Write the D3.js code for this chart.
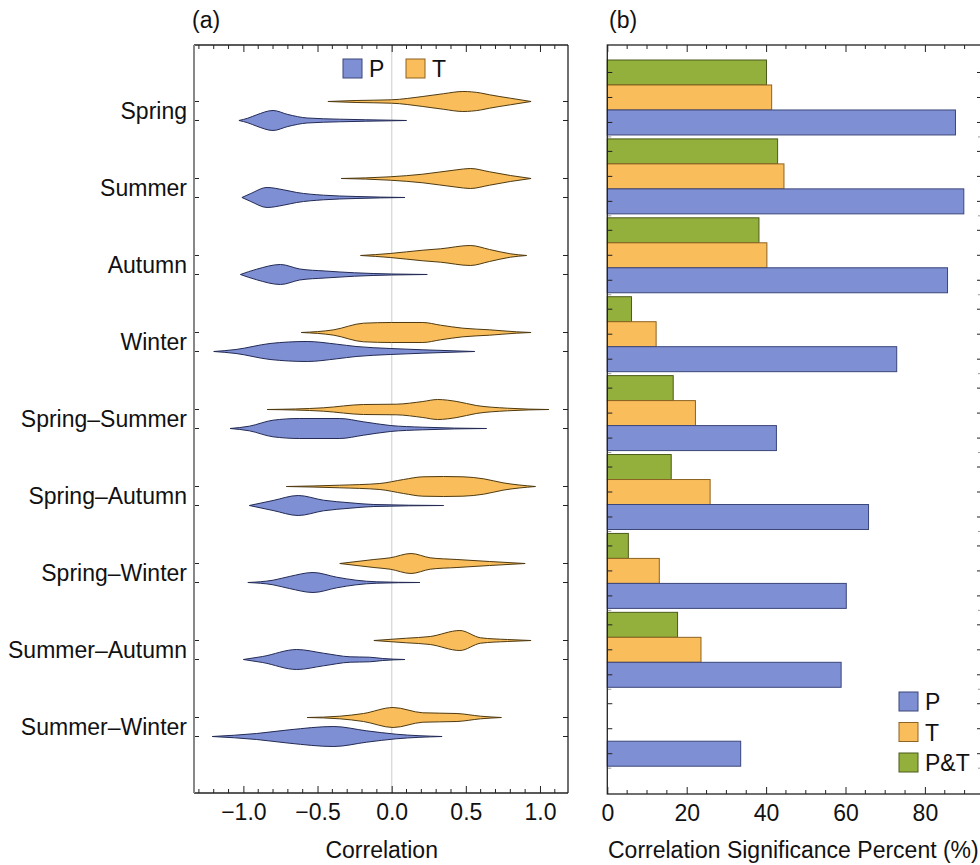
<!DOCTYPE html>
<html>
<head>
<meta charset="utf-8">
<script src="https://cdn.jsdelivr.net/npm/d3@7"></script>
<style>
  body { margin: 0; background: #fff; }
  svg text { font-family: "Liberation Sans", Arial, sans-serif; fill: #111; }
</style>
</head>
<body>
<div id="chart"></div>
<script>
var width = 980, height = 865;
var fs = 23;

var categories = ["Spring", "Summer", "Autumn", "Winter", "Spring\u2013Summer",
  "Spring\u2013Autumn", "Spring\u2013Winter", "Summer\u2013Autumn", "Summer\u2013Winter"];

// violin outlines: [correlation, relative half-width]
var violinT = [
  [[-0.43,0],[-0.24,0.1],[0.0,0.17],[0.21,0.5],[0.35,0.78],[0.48,1],[0.6,0.85],[0.66,0.67],[0.8,0.33],[0.94,0]],
  [[-0.34,0],[-0.01,0.17],[0.21,0.43],[0.44,0.87],[0.53,1],[0.66,0.67],[0.8,0.3],[0.94,0]],
  [[-0.21,0],[-0.01,0.2],[0.21,0.53],[0.33,0.67],[0.53,1],[0.66,0.6],[0.8,0.17],[0.91,0]],
  [[-0.61,0],[-0.39,0.27],[-0.19,0.93],[0.0,1],[0.21,1],[0.33,0.73],[0.48,0.43],[0.66,0.27],[0.84,0.07],[0.94,0]],
  [[-0.84,0],[-0.46,0.17],[-0.19,0.5],[0.03,0.53],[0.21,0.8],[0.31,1],[0.44,0.8],[0.57,0.4],[0.78,0.13],[1.06,0]],
  [[-0.71,0],[-0.35,0.13],[-0.08,0.3],[0.08,0.7],[0.21,0.97],[0.35,1],[0.48,0.97],[0.62,0.77],[0.75,0.37],[0.97,0]],
  [[-0.35,0],[-0.12,0.4],[-0.01,0.57],[0.13,1],[0.26,0.57],[0.44,0.4],[0.66,0.2],[0.9,0]],
  [[-0.12,0],[0.1,0.23],[0.26,0.4],[0.46,1],[0.6,0.27],[0.78,0.1],[0.94,0]],
  [[-0.57,0],[-0.35,0.13],[-0.19,0.4],[0.01,1],[0.21,0.47],[0.44,0.4],[0.6,0.13],[0.74,0]]
];
var violinP = [
  [[-1.03,0],[-0.97,0.23],[-0.91,0.57],[-0.8,1],[-0.7,0.6],[-0.57,0.25],[-0.35,0.13],[0.0,0.03],[0.1,0]],
  [[-1.01,0],[-0.95,0.4],[-0.84,1],[-0.73,0.77],[-0.64,0.5],[-0.46,0.23],[-0.24,0.1],[0.09,0]],
  [[-1.02,0],[-0.91,0.53],[-0.75,1],[-0.62,0.55],[-0.45,0.35],[-0.25,0.17],[0.0,0.05],[0.24,0]],
  [[-1.2,0],[-1.05,0.2],[-0.82,0.8],[-0.57,1],[-0.37,0.73],[-0.24,0.5],[-0.01,0.3],[0.21,0.17],[0.56,0]],
  [[-1.09,0],[-0.96,0.23],[-0.8,0.83],[-0.62,1],[-0.35,1],[-0.19,0.67],[-0.01,0.3],[0.21,0.13],[0.64,0]],
  [[-0.96,0],[-0.8,0.5],[-0.63,1],[-0.46,0.53],[-0.28,0.27],[-0.12,0.1],[0.35,0]],
  [[-0.97,0],[-0.8,0.23],[-0.69,0.6],[-0.53,1],[-0.37,0.53],[-0.24,0.23],[-0.1,0.07],[0.19,0]],
  [[-1.0,0],[-0.87,0.3],[-0.64,1],[-0.46,0.63],[-0.28,0.27],[-0.15,0.23],[-0.06,0.1],[0.09,0]],
  [[-1.21,0],[-0.91,0.3],[-0.69,0.67],[-0.39,1],[-0.17,0.57],[0.03,0.23],[0.34,0]]
];

// significance percent per category
var barP  = [87.7, 89.8, 85.7, 72.9, 42.6, 65.8, 60.2, 58.9, 33.6];
var barT  = [41.4, 44.5, 40.2, 12.3, 22.2, 25.9, 13.1, 23.6, 0];
var barPT = [40.1, 42.9, 38.2, 6.1, 16.6, 16.1, 5.3, 17.7, 0];

var series = ["P&T", "T", "P"];
var fills = { "P": "#7f8fd3", "T": "#f9bd5c", "P&T": "#93b03d" };
var edges = { "P": "#3b4679", "T": "#8d6321", "P&T": "#4b5b1b" };
var violinEdges = { "P": "#222a55", "T": "#4f3a10" };

var svg = d3.select("#chart").append("svg")
  .attr("width", width).attr("height", height);

// ---------- panel (a) ----------
var a = { left: 194, right: 568, top: 45, bottom: 793 };

var xA = d3.scaleLinear().domain([-1.333, 1.189]).range([a.left, a.right]);
var yA = d3.scalePoint().domain(categories).range([a.top, a.bottom]).padding(0.857);
var half = 9.5, vmax = 10;

var gA = svg.append("g");

gA.append("line")
  .attr("x1", xA(0)).attr("x2", xA(0))
  .attr("y1", a.top).attr("y2", a.bottom)
  .attr("stroke", "#dcdcdc").attr("stroke-width", 1.5);

function drawViolins(data, key, off) {
  data.forEach(function (pts, i) {
    var cy = yA(categories[i]) + off;
    var area = d3.area()
      .x(function (d) { return xA(d[0]); })
      .y0(function (d) { return cy - d[1] * vmax; })
      .y1(function (d) { return cy + d[1] * vmax; })
      .curve(d3.curveMonotoneX);
    gA.append("path")
      .attr("d", area(pts))
      .attr("fill", fills[key])
      .attr("stroke", violinEdges[key])
      .attr("stroke-width", 1);
  });
}
drawViolins(violinT, "T", -half);
drawViolins(violinP, "P", half);

// frame and ticks
var bottomAxisA = d3.axisBottom(xA).tickValues([-1, -0.5, 0, 0.5, 1])
  .tickFormat(function (d) { return d3.format(".1f")(d).replace("-", "\u2212"); })
  .tickSize(-7).tickPadding(11);
gA.append("g").attr("transform", "translate(0," + a.bottom + ")").call(bottomAxisA)
  .call(function (g) {
    g.select(".domain").remove();
    g.selectAll("text").attr("font-size", fs).attr("fill", "#111");
    g.selectAll("line").attr("stroke", "#222");
  });
gA.append("g").attr("transform", "translate(0," + a.top + ")")
  .call(d3.axisTop(xA).tickValues([-1, -0.5, 0, 0.5, 1]).tickSize(-7).tickFormat(""))
  .call(function (g) { g.select(".domain").remove(); g.selectAll("line").attr("stroke", "#222"); });

var minorA = d3.range(-13, 12).map(function (d) { return d / 10; })
  .filter(function (d) { return Math.abs(d * 2 - Math.round(d * 2)) > 1e-6; });
[a.bottom, a.top].forEach(function (yy) {
  var dir = yy === a.bottom ? -1 : 1;
  gA.selectAll(null).data(minorA).join("line")
    .attr("x1", function (d) { return xA(d); }).attr("x2", function (d) { return xA(d); })
    .attr("y1", yy).attr("y2", yy + dir * 4)
    .attr("stroke", "#222");
});

var violinRows = [];
categories.forEach(function (c) { violinRows.push(yA(c) - half, yA(c) + half); });
[a.left, a.right].forEach(function (xx) {
  var dir = xx === a.left ? 1 : -1;
  gA.selectAll(null).data(violinRows).join("line")
    .attr("x1", xx).attr("x2", xx + dir * 5)
    .attr("y1", function (d) { return d; }).attr("y2", function (d) { return d; })
    .attr("stroke", "#222");
});

gA.append("line").attr("x1", a.left).attr("x2", a.right).attr("y1", a.top).attr("y2", a.top).attr("stroke", "#222").attr("stroke-width", 1.3);
gA.append("line").attr("x1", a.left).attr("x2", a.right).attr("y1", a.bottom).attr("y2", a.bottom).attr("stroke", "#222").attr("stroke-width", 1.3);
gA.append("line").attr("x1", a.right).attr("x2", a.right).attr("y1", a.top).attr("y2", a.bottom).attr("stroke", "#222").attr("stroke-width", 1.3);
gA.append("line").attr("x1", a.left).attr("x2", a.left).attr("y1", a.top).attr("y2", a.bottom).attr("stroke", "#888").attr("stroke-width", 2);

gA.selectAll(".cat").data(categories).join("text")
  .attr("class", "cat")
  .attr("x", 187)
  .attr("y", function (d) { return yA(d) + 8; })
  .attr("text-anchor", "end")
  .attr("font-size", fs)
  .text(function (d) { return d; });

gA.append("text").attr("x", xA(0) - 10).attr("y", 858).attr("text-anchor", "middle")
  .attr("font-size", fs).text("Correlation");
gA.append("text").attr("x", 192).attr("y", 28).attr("font-size", fs).text("(a)");

// legend (a)
var legA = [{ k: "P", x: 343 }, { k: "T", x: 406 }];
legA.forEach(function (d) {
  gA.append("rect").attr("x", d.x).attr("y", 59).attr("width", 19).attr("height", 19)
    .attr("fill", fills[d.k]).attr("stroke", edges[d.k]).attr("stroke-width", 1);
  gA.append("text").attr("x", d.x + 26).attr("y", 77).attr("font-size", fs).text(d.k);
});

// ---------- panel (b) ----------
var b = { left: 607.3, right: 982, top: 45, bottom: 794 };
var xB = d3.scaleLinear().domain([0, (b.right - b.left) / 3.97]).range([b.left, b.right]);
var yB = d3.scaleBand().domain(categories).range([60, 766.2]).paddingInner(0.05).paddingOuter(0);
var ySub = d3.scaleBand().domain(series).range([0, yB.bandwidth()]);

var gB = svg.append("g");
var barData = [];
categories.forEach(function (c, i) {
  barData.push({ c: c, k: "P&T", v: barPT[i] });
  barData.push({ c: c, k: "T", v: barT[i] });
  barData.push({ c: c, k: "P", v: barP[i] });
});
gB.selectAll(".bar").data(barData.filter(function (d) { return d.v > 0; })).join("rect")
  .attr("class", "bar")
  .attr("x", xB(0))
  .attr("y", function (d) { return yB(d.c) + ySub(d.k); })
  .attr("width", function (d) { return xB(d.v) - xB(0); })
  .attr("height", ySub.bandwidth())
  .attr("fill", function (d) { return fills[d.k]; })
  .attr("stroke", function (d) { return edges[d.k]; })
  .attr("stroke-width", 1);

gB.append("g").attr("transform", "translate(0," + b.bottom + ")")
  .call(d3.axisBottom(xB).tickValues([0, 20, 40, 60, 80]).tickSize(-7).tickPadding(11))
  .call(function (g) {
    g.select(".domain").remove();
    g.selectAll("text").attr("font-size", fs).attr("fill", "#111");
    g.selectAll("line").attr("stroke", "#222");
  });
gB.append("g").attr("transform", "translate(0," + b.top + ")")
  .call(d3.axisTop(xB).tickValues([0, 20, 40, 60, 80]).tickSize(-7).tickFormat(""))
  .call(function (g) { g.select(".domain").remove(); g.selectAll("line").attr("stroke", "#222"); });
var minorB = d3.range(5, 95, 5).filter(function (d) { return d % 20 !== 0; });
[b.bottom, b.top].forEach(function (yy) {
  var dir = yy === b.bottom ? -1 : 1;
  gB.selectAll(null).data(minorB).join("line")
    .attr("x1", function (d) { return xB(d); }).attr("x2", function (d) { return xB(d); })
    .attr("y1", yy).attr("y2", yy + dir * 4)
    .attr("stroke", "#222");
});

var barRows = [], sepRows = [];
categories.forEach(function (c, i) {
  series.forEach(function (k) { barRows.push(yB(c) + ySub(k) + ySub.bandwidth() / 2); });
  sepRows.push(yB(c) + yB.bandwidth() + yB.step() * yB.paddingInner() / 2);
});
[b.left, b.right].forEach(function (xx) {
  var dir = xx === b.left ? 1 : -1;
  gB.selectAll(null).data(barRows).join("line")
    .attr("x1", xx).attr("x2", xx + dir * 5)
    .attr("y1", function (d) { return d; }).attr("y2", function (d) { return d; })
    .attr("stroke", "#222");
  gB.selectAll(null).data(sepRows).join("line")
    .attr("x1", xx).attr("x2", xx + dir * 4)
    .attr("y1", function (d) { return d; }).attr("y2", function (d) { return d; })
    .attr("stroke", "#999");
});

gB.append("rect").attr("x", b.left).attr("y", b.top)
  .attr("width", b.right - b.left).attr("height", b.bottom - b.top)
  .attr("fill", "none").attr("stroke", "#222").attr("stroke-width", 1.3);

gB.append("text").attr("x", 608).attr("y", 858).attr("font-size", fs)
  .text("Correlation Significance Percent (%)");
gB.append("text").attr("x", 609).attr("y", 28).attr("font-size", fs).text("(b)");

// legend (b)
["P", "T", "P&T"].forEach(function (k, i) {
  var yy = 692 + i * 30.5;
  gB.append("rect").attr("x", 899).attr("y", yy).attr("width", 19).attr("height", 19)
    .attr("fill", fills[k]).attr("stroke", edges[k]).attr("stroke-width", 1);
  gB.append("text").attr("x", 925).attr("y", yy + 18).attr("font-size", fs).text(k);
});
</script>
</body>
</html>
